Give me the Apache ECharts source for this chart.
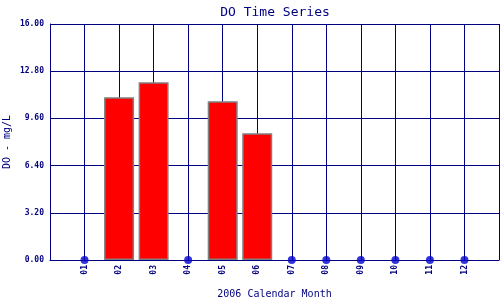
<!DOCTYPE html>
<html>
<head>
<meta charset="utf-8">
<script src="https://cdn.jsdelivr.net/npm/echarts@6/dist/echarts.min.js"></script>
<style>html,body{margin:0;padding:0;background:#fff}#c{width:500px;height:300px}</style>
</head>
<body>
<div id="c"></div>
<script>
var months = ['', '01', '02', '03', '04', '05', '06', '07', '08', '09', '10', '11', '12', ''];
var doValues = [null, null, 11.03, 12.05, null, 10.76, 8.59, null, null, null, null, null, null, null];
var yTicks = [0, 3.2, 6.4, 9.6, 12.8, 16];
var title = 'DO Time Series';
var xName = '2006 Calendar Month';
var yName = 'DO - mg/L';

var noData = months.map(function (m, i) { return (m !== '' && doValues[i] === null) ? 0 : null; });
var navy = '#000080';
var mono = 'DejaVu Sans Mono';

var chart = echarts.init(document.getElementById('c'), null, {renderer: 'canvas'});
chart.setOption({
  animation: false,
  backgroundColor: '#fff',
  title: {
    text: title, left: 270, top: 1, textAlign: 'center',
    textStyle: {fontFamily: mono, fontSize: 13, fontWeight: 'normal', color: navy}
  },
  grid: {left: 50, right: 1, top: 24, bottom: 40, containLabel: false, outerBoundsMode: 'none'},
  xAxis: {
    type: 'category', data: months, boundaryGap: false,
    name: xName, nameLocation: 'middle', nameGap: 29, nameMoveOverlap: false,
    nameTextStyle: {fontFamily: mono, fontSize: 10, color: navy},
    axisLine: {show: true, lineStyle: {color: navy, width: 1}},
    axisTick: {show: false},
    axisLabel: {rotate: 90, margin: 5, fontFamily: mono, fontSize: 8, fontWeight: 'bold', color: navy, interval: 0},
    splitLine: {show: true, interval: 0, lineStyle: {color: navy, width: 1}}
  },
  yAxis: {
    type: 'value', min: 0, max: 16, interval: 3.2,
    name: yName, nameLocation: 'middle', nameGap: 38, nameMoveOverlap: false,
    nameTextStyle: {fontFamily: mono, fontSize: 10, color: navy},
    axisLine: {show: true, lineStyle: {color: navy, width: 1}},
    axisTick: {show: false},
    axisLabel: {margin: 6, fontFamily: mono, fontSize: 8, fontWeight: 'bold', color: navy,
      formatter: function (v) { return v.toFixed(2); }},
    splitLine: {show: true, lineStyle: {color: navy, width: 1}}
  },
  series: [
    {
      type: 'bar', data: doValues, barWidth: 30,
      itemStyle: {color: '#ff0000', borderColor: '#808080', borderWidth: 1.5},
      z: 2
    },
    {
      type: 'scatter', data: noData, symbol: 'circle', symbolSize: 8,
      itemStyle: {color: '#0000cc'}, z: 3
    }
  ]
});
</script>
</body>
</html>
